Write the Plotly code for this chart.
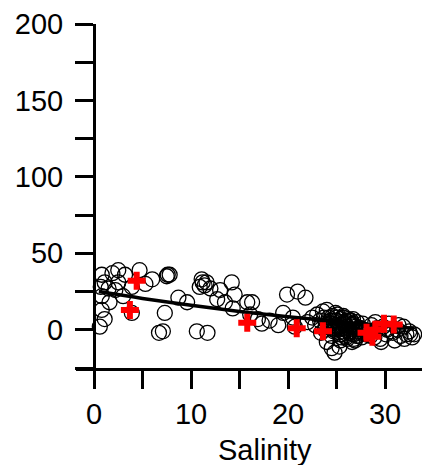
import plotly.graph_objects as go

# Open circles: salinity vs value
circ_s = [0.8, 1.9, 2.5, 3.2, 1.1, 2.5, 3.9, 4.7, 6.0, 7.6, 0.8, 1.6, 0.8, 1.1, 0.6, 3.9,
          2.2, 1.5, 5.3, 3.0, 0.7, 6.7, 7.1, 7.3, 7.5,
          7.8, 8.7, 11.1, 11.4, 10.9, 11.6, 11.2, 12.0, 14.2, 12.7, 13.5, 14.5, 14.3, 15.8,
          16.1, 10.6, 11.7, 9.6, 13.0,
          16.3, 19.9, 21.0, 21.8, 18.1, 20.5, 19.0, 17.3, 19.5, 20.7, 22.0, 22.5, 16.9,
          23.0, 23.3, 23.6, 23.9, 24.2, 24.4, 24.6, 24.8, 25.0, 25.2, 25.4, 25.6, 25.8, 26.0,
          26.2, 26.4, 26.6, 26.8, 27.0, 27.2, 27.4, 27.6, 27.8, 28.0,
          23.4, 23.8, 24.1, 24.5, 24.9, 25.3, 25.7, 26.1, 26.5, 26.9, 27.3, 27.7,
          24.0, 24.3, 24.7, 25.1, 25.5, 25.9, 26.3, 26.7, 27.1, 27.5, 27.9,
          24.5, 24.8, 24.0, 25.3,
          28.3, 28.6, 28.9, 29.2, 29.5, 29.8, 30.1, 30.4, 30.7, 31.0, 31.3, 31.6, 31.9,
          32.2, 32.5, 32.8, 29.0, 29.6, 30.2, 30.8, 31.4, 32.0, 32.6, 28.5, 33.0,
          24.6, 24.9, 25.2, 25.5, 25.8, 26.1, 26.4, 26.7, 27.0, 27.3,
          24.7, 25.0, 25.3, 25.6, 25.9, 26.2, 26.5, 26.8, 27.1, 27.4,
          25.1, 25.4, 25.7, 26.0, 26.3, 26.6, 26.9, 23.7, 24.4, 22.8]
circ_v = [36, 37, 39, 36, 31, 31, 28, 39, 33, 36, 22, 18, 13, 7, 2, 11,
          26, 27, 30, 22, 28, -2, -1, 11, 35,
          36, 21, 33, 29, 28, 31, 31, 27, 31, 20, 18, 23, 14, 18,
          10, -1, -2, 18, 26,
          18, 23, 25, 21, 6, 8, 3, 4, 11, 2, 5, 8, 7,
          10, 6, 12, 3, 8, 4, 9, 1, 6, 2, 7, -1, 4, 0,
          5, -2, 3, -3, 2, -4, 1, -5, 0, -3,
          -2, 0, 5, -4, 11, -3, 8, -6, 6, -7, -1, 4,
          13, 2, 0, 10, -5, 3, -2, 7, -4, 1, -1,
          -12, -15, -8, -11,
          -2, 3, -5, 1, -6, 2, -3, 4, -1, -7, 0, -4, 2,
          -3, -1, -5, 5, -8, 0, -2, 3, -6, -3, -4, -3,
          6, 3, 0, -3, 5, 2, -1, 4, -2, 1,
          -1, 8, 5, 1, -4, 7, 3, -6, 5, -2,
          2, -7, 9, -5, 6, -8, 0, 8, 6, 3]

# Red crosses
red_s = [3.7, 4.4, 15.8, 20.9, 23.6, 28.1, 29.9, 30.9, 29.0, 28.7]
red_v = [13, 32, 4.6, 1.0, -1.0, -2.0, 4.0, 3.5, 0.0, -4.5]

# Fitted curve
fit_s = [0.5, 5, 10, 15, 20, 25, 30, 33]
fit_v = [25, 20.5, 16, 12, 8.5, 5.5, 2.5, 1]

x_ticks = [0, 5, 10, 15, 20, 25, 30, 35]
x_labels = ["0", "", "10", "", "20", "", "30", ""]
y_ticks = [-25, 0, 25, 50, 75, 100, 125, 150, 175, 200]
y_labels = ["", "0", "", "50", "", "100", "", "150", "", "200"]

# page body has an 8px margin, so figure coords = viewport coords - 8
W, H = 430, 465
L, R, T = 68, 0, 16
B = H - 360
X0 = 86          # figure px of salinity 0
PXU = 9.7        # px per salinity unit

fig = go.Figure()
fig.add_trace(go.Scatter(x=circ_s, y=circ_v, mode="markers",
                         marker=dict(symbol="circle-open", size=15, color="black",
                                     line=dict(width=1.3, color="black")),
                         showlegend=False))
fig.add_trace(go.Scatter(x=fit_s, y=fit_v, mode="lines",
                         line=dict(color="black", width=3.5, shape="spline"),
                         showlegend=False))
fig.add_trace(go.Scatter(x=red_s, y=red_v, mode="markers",
                         marker=dict(symbol="cross", size=15, color="red",
                                     line=dict(width=0)),
                         showlegend=False))

xr = [(L - X0) / PXU, (W - R - X0) / PXU]
fig.update_layout(
    width=W, height=H,
    margin=dict(l=L, r=R, t=T, b=B, pad=0, autoexpand=False),
    paper_bgcolor="white", plot_bgcolor="white",
    font=dict(family="Liberation Sans, Arial, sans-serif", color="black", size=29),
    xaxis=dict(range=xr, domain=[0, 1], showgrid=False, zeroline=False,
               showline=True, linecolor="black", linewidth=3, automargin=False,
               tickmode="array", tickvals=x_ticks, ticktext=x_labels,
               ticks="outside", ticklen=18, tickwidth=3, tickcolor="black",
               ticklabelstandoff=0, tickfont=dict(size=29)),
    yaxis=dict(range=[-25, 200], showgrid=False, zeroline=False,
               showline=True, linecolor="black", linewidth=3, automargin=False,
               anchor="free", position=(X0 - L) / (W - L - R),
               tickmode="array", tickvals=y_ticks, ticktext=y_labels,
               ticks="outside", ticklen=18, tickwidth=3, tickcolor="black",
               ticklabelstandoff=6, tickfont=dict(size=29)),
)
fig.add_annotation(text="Salinity", x=17.6, xref="x", y=(360 - 442) / (360 - T),
                   yref="paper", showarrow=False, font=dict(size=29), yanchor="middle")
fig.write_html("out.html")
